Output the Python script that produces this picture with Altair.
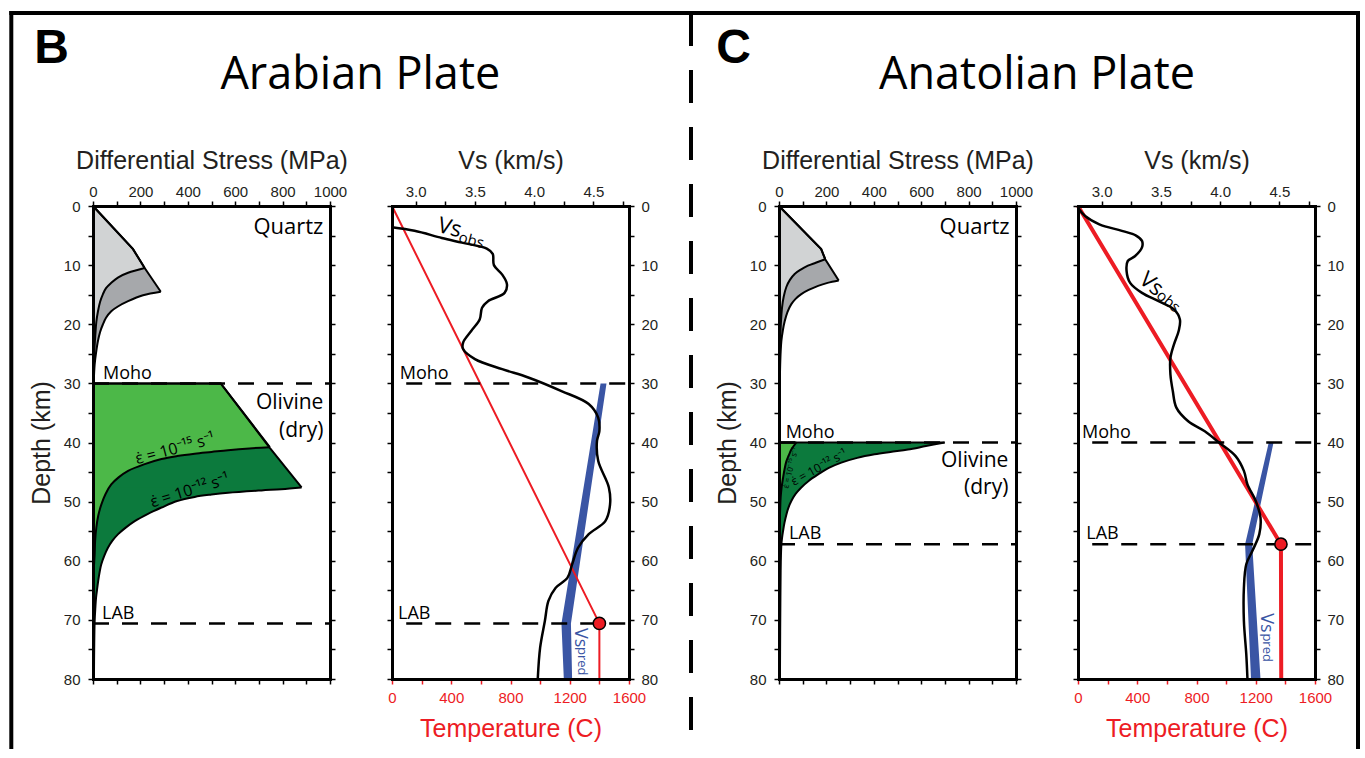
import altair as alt
import pandas as pd

# ------------------------------------------------------------------
# DATA
# ------------------------------------------------------------------
DEPTH_TICKS = list(range(0, 81, 5))
STRESS_TICKS = list(range(0, 1001, 100))
VS_TICKS = [3.0, 3.25, 3.5, 3.75, 4.0, 4.25, 4.5, 4.75]
TEMP_TICKS = list(range(0, 1601, 200))

# ---- Panel B : Arabian Plate, strength envelopes (stress MPa / depth km)
B_q12_lin_depth = [0, 7.3, 10.5, 14.5]
B_q12_lin_stress = [0, 169, 218, 286]
B_q12_cur_depth = [14.5, 15.1, 16.1, 17.0, 17.8, 18.9, 20.0, 21.3, 22.8, 24.8, 26.8, 29.9]
B_q12_cur_stress = [286, 211, 148, 105, 77, 55, 42, 30, 21, 13, 7, 3]
B_q15_lin_depth = [0, 7.3, 10.5]
B_q15_lin_stress = [0, 169, 218]
B_q15_cur_depth = [10.5, 11.3, 12.1, 13.0, 13.9, 14.9, 16.2, 17.8, 19.6, 21.7, 24.2, 26.8, 29.9]
B_q15_cur_stress = [218, 148, 105, 77, 55, 42, 30, 21, 14, 10, 6, 4, 2]
B_o12_lin_depth = [30, 30, 40.9, 47.6]
B_o12_lin_stress = [0, 539, 746, 880]
B_o12_cur_depth = [47.6, 47.9, 48.1, 48.5, 48.8, 49.2, 49.9, 51.0, 52.1, 53.3, 54.4, 55.5,
                   56.6, 57.8, 59.2, 60.6, 62.6, 64.6, 66.2, 67.9, 70.2, 75.0, 80.0]
B_o12_cur_stress = [880, 795, 711, 570, 500, 429, 355, 289, 230, 176, 138, 106,
                    82, 63, 47, 35, 25, 18, 13, 10, 7, 5, 4]
B_o15_lin_depth = [30, 30, 40.8]
B_o15_lin_stress = [0, 539, 746]
B_o15_cur_depth = [40.8, 41.0, 41.3, 41.6, 41.9, 42.3, 42.8, 43.7, 44.8, 45.9, 47.1, 48.7,
                   50.5, 52.4, 54.4, 56.6, 58.9, 61.7, 66.0]
B_o15_cur_stress = [746, 660, 570, 500, 429, 355, 289, 215, 148, 108, 77, 53,
                    35, 22, 14, 9, 7, 3, 1]
B_moho, B_lab = 30, 70.6

# ---- Panel B : velocity / temperature
B_obs_depth = [3.6, 4.2, 5.4, 6.2, 7.2, 8.1, 10.0, 11.6, 13.2, 14.7, 16.1, 17.2, 19.2, 21.1,
               23.1, 24.2, 25.9, 27.6, 29.0, 31.3, 33.5, 35.8, 38.1, 39.7, 43.1, 47.6, 50.5,
               53.3, 55.5, 57.8, 60.6, 62.9, 64.6, 66.8, 70.2, 74.7, 80.0]
B_obs_vs = [2.80, 2.99, 3.22, 3.39, 3.60, 3.65, 3.66, 3.73, 3.77, 3.75, 3.61, 3.56, 3.54, 3.47,
            3.40, 3.40, 3.50, 3.73, 3.95, 4.23, 4.46, 4.54, 4.55, 4.53, 4.54, 4.63, 4.64,
            4.60, 4.46, 4.37, 4.32, 4.28, 4.18, 4.12, 4.09, 4.05, 4.03]
B_pred_depth = [30, 70.6, 80]
B_pred_lo = [4.56, 4.23, 4.25]
B_pred_hi = [4.61, 4.31, 4.32]
B_temp_depth = [0, 70.6, 80]
B_temp = [0, 1400, 1400]

# ---- Panel C : Anatolian Plate, strength envelopes
C_q12_lin_depth = [0, 7.3, 9.0, 12.6]
C_q12_lin_stress = [0, 178, 195, 252]
C_q12_cur_depth = [12.6, 13.0, 13.5, 14.2, 14.9, 15.7, 16.6, 17.9, 19.5, 21.1, 22.8, 24.7,
                   26.8, 30.0, 34.0, 39.8]
C_q12_cur_stress = [252, 205, 165, 125, 94, 70, 52, 36, 24, 16, 10, 7, 5, 3, 2, 1]
C_q15_lin_depth = [0, 7.3, 9.0]
C_q15_lin_stress = [0, 178, 195]
C_q15_cur_depth = [9.0, 9.6, 10.1, 10.8, 11.5, 12.5, 13.7, 15.3, 17.1, 19.8, 22.8, 27.0,
                   31.0, 36.0, 40.0]
C_q15_cur_stress = [195, 155, 122, 90, 66, 46, 31, 20, 13, 8, 5, 3, 2, 1, 0.5]
C_o12_lin_depth = [40, 40]
C_o12_lin_stress = [0, 699]
C_o12_cur_depth = [40.0, 40.6, 41.2, 41.6, 42.0, 42.6, 43.4, 44.3, 45.4, 46.5, 47.6, 48.7,
                   49.9, 51.0, 52.2, 53.6, 55.0, 56.1, 57.3, 59.5, 61.7, 66.0, 72.0, 80.0]
C_o12_cur_stress = [699, 620, 544, 470, 403, 330, 263, 210, 165, 125, 94, 70,
                    52, 40, 31, 23, 17, 13, 10, 8, 7, 6, 5, 4]
C_o15_lin_depth = [40, 40]
C_o15_lin_stress = [0, 73]
C_o15_cur_depth = [40.0, 40.6, 41.2, 42.2, 43.2, 44.6, 46.0, 47.6, 49.3, 51.2, 53.3, 56.6, 60.0]
C_o15_cur_stress = [73, 62, 52, 41, 31, 23, 17, 11, 7, 5, 3, 1, 0.5]
C_moho, C_lab = 40, 57.2

# ---- Panel C : velocity / temperature
C_obs_depth = [0.3, 1.7, 3.1, 4.2, 5.0, 5.9, 7.0, 8.5, 9.3, 11.0, 13.0, 14.7, 16.1, 17.5,
               19.2, 21.1, 23.4, 25.7, 28.5, 31.3, 34.1, 36.4, 38.1, 40.0, 42.3, 44.8, 47.1,
               49.9, 52.7, 55.5, 58.4, 60.6, 64.6, 70.2, 75.8, 80.0]
C_obs_vs = [2.80, 2.86, 2.98, 3.17, 3.29, 3.34, 3.34, 3.28, 3.22, 3.21, 3.24, 3.34, 3.48, 3.61,
            3.66, 3.65, 3.61, 3.58, 3.58, 3.60, 3.63, 3.73, 3.87, 3.99, 4.13, 4.20, 4.23,
            4.30, 4.34, 4.33, 4.27, 4.22, 4.20, 4.20, 4.22, 4.23]
C_pred_depth = [40, 57.2, 80]
C_pred_lo = [4.41, 4.21, 4.26]
C_pred_hi = [4.45, 4.27, 4.34]
C_temp_depth = [0, 57.2, 80]
C_temp = [0, 1370, 1372]

# ------------------------------------------------------------------
# STYLE
# ------------------------------------------------------------------
INK = "#231f20"
RED = "#ed1c24"
BLUE = "#3a55a4"
LGRAY = "#d1d3d4"
DGRAY = "#a6a8ab"
LGREEN = "#4cb848"
DGREEN = "#0c7a3d"
FONT_H = "Liberation Sans"
FONT_M = "Open Sans"
W, H = 237, 473

DEPTH = alt.Scale(domain=[0, 80], reverse=True, nice=False, zero=False)
STRESS = alt.Scale(domain=[0, 1000], nice=False, zero=False)
VS = alt.Scale(domain=[2.8, 4.8], nice=False, zero=False)
TEMP = alt.Scale(domain=[0, 1600], nice=False, zero=False)

EPS15 = "\u03b5\u0307 = 10\u207b\u00b9\u2075 s\u207b\u00b9"
EPS12 = "\u03b5\u0307 = 10\u207b\u00b9\u00b2 s\u207b\u00b9"


def axis(**kw):
    base = dict(grid=False, tickSize=5, tickWidth=1.5, tickColor="black",
                domainColor="black", domainWidth=3, domainCap="square",
                labelFont=FONT_H, labelFontSize=15, labelColor=INK,
                labelFlush=False, labelOverlap=False, labelBound=False, zindex=1,
                titleFont=FONT_H, titleFontSize=25, titleFontWeight="normal",
                titleColor=INK, titleBaseline="alphabetic", titleAlign="center")
    base.update(kw)
    return alt.Axis(**base)


def pts(depth, vals, key="stress", seg="s"):
    return pd.DataFrame({"depth": depth, key: vals, "i": list(range(len(depth))), "seg": seg})


def label(t, x, y, xscale, size, align="center", baseline="alphabetic", angle=0,
          font=FONT_M, color="black", weight="normal"):
    df = pd.DataFrame({"t": [t], "x": [x], "y": [y]})
    mk = dict(font=font, fontSize=size, align=align, baseline=baseline, color=color,
              fontWeight=weight)
    if angle:
        mk["angle"] = angle
    return alt.Chart(df).mark_text(**mk).encode(
        x=alt.X("x:Q", scale=xscale, axis=None),
        y=alt.Y("y:Q", scale=DEPTH, axis=None),
        text="t:N")


def deco_text(t, px, py, size, font, weight="normal", align="left"):
    return alt.Chart(pd.DataFrame({"t": [t]})).mark_text(
        font=font, fontSize=size, fontWeight=weight, align=align,
        baseline="alphabetic", color="black").encode(
        x=alt.value(px), y=alt.value(py), text="t:N")


def deco_rule(x, y, x2=None, y2=None, dash=None, width=4):
    enc = dict(x=alt.value(x), y=alt.value(y))
    if x2 is not None:
        enc["x2"] = alt.value(x2)
    if y2 is not None:
        enc["y2"] = alt.value(y2)
    mk = dict(color="black", strokeWidth=width, strokeCap="square")
    if dash:
        mk["strokeDash"] = dash
        mk["strokeCap"] = "butt"
    return alt.Chart(pd.DataFrame({"k": [0]})).mark_rule(**mk).encode(**enc)


def stress_panel(envs, moho, lab, texts, deco):
    carriers = [
        (axis(orient="top", values=STRESS_TICKS, format="d",
              labelExpr="datum.value % 200 === 0 ? datum.label : ''", labelPadding=2,
              title="Differential Stress (MPa)", titleX=W / 2, titleY=-38),
         axis(orient="left", values=DEPTH_TICKS, format="d",
              labelExpr="datum.value % 10 === 0 ? datum.label : ''", labelPadding=8,
              title="Depth (km)", titleAngle=270, titleX=-44, titleY=H / 2)),
        (axis(orient="bottom", values=STRESS_TICKS, labels=False, title=None),
         axis(orient="right", values=DEPTH_TICKS, labels=False, title=None)),
    ]
    layers = []
    lin_lines, cur_lines = [], []
    for name, (ld, ls, cd, cs, color) in envs:
        lin = pts(ld, ls, seg=name)
        cur = pts(cd, cs, seg=name)
        lin_lines.append(lin)
        cur_lines.append(cur)
        lin_area = lin.iloc[1:] if (len(ld) > 1 and ld[0] == ld[1]) else lin
        if len(lin_area) >= 2:
            # overlap slightly into the curved part so no seam shows between the fills
            lin_area = pd.concat([lin_area, cur.iloc[1:2]])
        for df, interp in ((lin_area, "linear"), (cur, "catmull-rom")):
            if len(df) < 2:
                continue
            ax_x, ax_y = carriers.pop(0) if carriers else (None, None)
            layers.append(alt.Chart(df).mark_area(
                orient="horizontal", color=color, interpolate=interp, opacity=1).encode(
                x=alt.X("stress:Q", scale=STRESS, axis=ax_x),
                x2=alt.X2Datum(0),
                y=alt.Y("depth:Q", scale=DEPTH, axis=ax_y)))
    for dfs, interp in ((lin_lines, "linear"), (cur_lines, "catmull-rom")):
        layers.append(alt.Chart(pd.concat(dfs)).mark_line(
            color="black", strokeWidth=2, interpolate=interp).encode(
            x=alt.X("stress:Q", scale=STRESS, axis=None),
            y=alt.Y("depth:Q", scale=DEPTH, axis=None),
            detail="seg:N", order=alt.Order("i:Q")))
    layers.append(alt.Chart(pd.DataFrame({"depth": [moho, lab]})).mark_rule(
        color="black", strokeWidth=2.5, strokeDash=[16, 13]).encode(
        x=alt.XDatum(0, scale=STRESS, axis=None), x2=alt.X2Datum(1000),
        y=alt.Y("depth:Q", scale=DEPTH, axis=None)))
    for t in texts:
        layers.append(label(xscale=STRESS, **t))
    layers.extend(deco)
    return alt.layer(*layers).resolve_scale(x="independent", y="independent").properties(
        width=W, height=H)


def vs_panel(obs_d, obs_v, pred_d, pred_lo, pred_hi, t_d, t_v, moho, lab, lab_t,
             texts, red_width):
    layers = []
    layers.append(alt.Chart(pd.DataFrame({"depth": pred_d, "lo": pred_lo, "hi": pred_hi}))
                  .mark_area(orient="horizontal", color=BLUE, opacity=1)
                  .encode(x=alt.X("lo:Q", scale=VS, axis=None), x2=alt.X2("hi:Q"),
                          y=alt.Y("depth:Q", scale=DEPTH, axis=None)))
    layers.append(alt.Chart(pts(t_d, t_v, "temp")).mark_line(
        color=RED, strokeWidth=red_width).encode(
        x=alt.X("temp:Q", scale=TEMP,
                axis=axis(orient="bottom", values=TEMP_TICKS, format="d",
                          labelExpr="datum.value % 400 === 0 ? datum.label : ''",
                          labelPadding=6, labelColor=RED, tickColor=RED,
                          title="Temperature (C)", titleColor=RED, titleX=W / 2, titleY=57)),
        y=alt.Y("depth:Q", scale=DEPTH,
                axis=axis(orient="left", values=DEPTH_TICKS, labels=False, title=None)),
        order=alt.Order("i:Q")))
    layers.append(alt.Chart(pts(obs_d, obs_v, "vs")).mark_line(
        color="black", strokeWidth=2.5, interpolate="catmull-rom").encode(
        x=alt.X("vs:Q", scale=VS,
                axis=axis(orient="top", values=VS_TICKS, format=".1f",
                          labelExpr="(datum.value * 2) % 1 === 0 ? datum.label : ''",
                          labelPadding=2, title="Vs (km/s)", titleX=W / 2, titleY=-38)),
        y=alt.Y("depth:Q", scale=DEPTH,
                axis=axis(orient="right", values=DEPTH_TICKS, format="d",
                          labelExpr="datum.value % 10 === 0 ? datum.label : ''",
                          labelPadding=7, title=None)),
        order=alt.Order("i:Q")))
    layers.append(alt.Chart(pd.DataFrame({"depth": [moho, lab]})).mark_rule(
        color="black", strokeWidth=2.5, strokeDash=[16, 13]).encode(
        x=alt.XDatum(2.92, scale=VS, axis=None), x2=alt.X2Datum(4.8),
        y=alt.Y("depth:Q", scale=DEPTH, axis=None)))
    layers.append(alt.Chart(pd.DataFrame({"temp": [lab_t], "depth": [lab]})).mark_point(
        shape="circle", size=150, filled=True, fill=RED, stroke="black",
        strokeWidth=1.5, opacity=1).encode(
        x=alt.X("temp:Q", scale=TEMP, axis=None),
        y=alt.Y("depth:Q", scale=DEPTH, axis=None)))
    for t in texts:
        layers.append(label(xscale=VS, **t))
    return alt.layer(*layers).resolve_scale(x="independent", y="independent").properties(
        width=W, height=H)


# ------------------------------------------------------------------
# PANELS
# ------------------------------------------------------------------
B_envs = [
    ("q12", (B_q12_lin_depth, B_q12_lin_stress, B_q12_cur_depth, B_q12_cur_stress, DGRAY)),
    ("q15", (B_q15_lin_depth, B_q15_lin_stress, B_q15_cur_depth, B_q15_cur_stress, LGRAY)),
    ("o12", (B_o12_lin_depth, B_o12_lin_stress, B_o12_cur_depth, B_o12_cur_stress, DGREEN)),
    ("o15", (B_o15_lin_depth, B_o15_lin_stress, B_o15_cur_depth, B_o15_cur_stress, LGREEN)),
]
B_stress_texts = [
    dict(t="Quartz", x=972, y=4.8, size=22, align="right"),
    dict(t="Olivine", x=972, y=34.3, size=21, align="right"),
    dict(t="(dry)", x=972, y=39.1, size=21, align="right"),
    dict(t="Moho", x=42, y=29.3, size=18, align="left"),
    dict(t="LAB", x=38, y=69.9, size=18, align="left"),
    dict(t=EPS15, x=352, y=41.9, size=16, angle=345),
    dict(t=EPS12, x=415, y=48.95, size=16, angle=343),
]
B_deco = [
    deco_rule(-81.7, -193, y2=541),
    deco_rule(-81.7, -193, x2=1265),
    deco_rule(1265, -193, y2=541),
    deco_text("B", -58.7, -143, 48, FONT_H, weight="bold"),
    deco_text("Arabian Plate", 267.3, -117, 45, FONT_M, align="center"),
]
B_stress = stress_panel(B_envs, B_moho, B_lab, B_stress_texts, B_deco)

B_vs_texts = [
    dict(t="Moho", x=2.865, y=29.3, size=18, align="left"),
    dict(t="LAB", x=2.851, y=69.9, size=18, align="left"),
    dict(t="Vs", x=3.288, y=3.67, size=22, baseline="middle", angle=15),
    dict(t="obs", x=3.47, y=5.8, size=15, baseline="middle", angle=15),
    dict(t="Vs", x=4.39, y=73.0, size=18, baseline="middle", angle=90, color=BLUE),
    dict(t="pred", x=4.404, y=77.0, size=13, baseline="middle", angle=90, color=BLUE),
]
B_vs = vs_panel(B_obs_depth, B_obs_vs, B_pred_depth, B_pred_lo, B_pred_hi,
                B_temp_depth, B_temp, B_moho, B_lab, 1400, B_vs_texts, 2)

C_envs = [
    ("q12", (C_q12_lin_depth, C_q12_lin_stress, C_q12_cur_depth, C_q12_cur_stress, DGRAY)),
    ("q15", (C_q15_lin_depth, C_q15_lin_stress, C_q15_cur_depth, C_q15_cur_stress, LGRAY)),
    ("o12", (C_o12_lin_depth, C_o12_lin_stress, C_o12_cur_depth, C_o12_cur_stress, DGREEN)),
    ("o15", (C_o15_lin_depth, C_o15_lin_stress, C_o15_cur_depth, C_o15_cur_stress, LGREEN)),
]
C_stress_texts = [
    dict(t="Quartz", x=973, y=4.7, size=22, align="right"),
    dict(t="Moho", x=28, y=39.2, size=18, align="left"),
    dict(t="Olivine", x=968, y=44.2, size=21, align="right"),
    dict(t="(dry)", x=968, y=48.7, size=21, align="right"),
    dict(t="LAB", x=42, y=56.3, size=18, align="left"),
    dict(t=EPS12, x=178, y=44.8, size=12, angle=331),
    dict(t=EPS15, x=52, y=44.3, size=8, baseline="middle", angle=284),
]
C_deco = [
    deco_text("C", -62.7, -143, 48, FONT_H, weight="bold"),
    deco_text("Anatolian Plate", 258, -117, 45, FONT_M, align="center"),
]
C_stress = stress_panel(C_envs, C_moho, C_lab, C_stress_texts, C_deco)

C_vs_texts = [
    dict(t="Moho", x=2.834, y=39.2, size=18, align="left"),
    dict(t="LAB", x=2.87, y=56.4, size=18, align="left"),
    dict(t="Vs", x=3.421, y=13.2, size=22, baseline="middle", angle=40),
    dict(t="obs", x=3.563, y=16.1, size=15, baseline="middle", angle=40),
    dict(t="Vs", x=4.387, y=70.5, size=18, baseline="middle", angle=90, color=BLUE),
    dict(t="pred", x=4.396, y=74.7, size=13, baseline="middle", angle=90, color=BLUE),
]
C_vs = vs_panel(C_obs_depth, C_obs_vs, C_pred_depth, C_pred_lo, C_pred_hi,
                C_temp_depth, C_temp, C_moho, C_lab, 1370, C_vs_texts, 4)

spacer = alt.layer(deco_rule(0, -193, y2=541, dash=[33, 24], width=4)).properties(
    width=26, height=H)

chart = alt.hconcat(B_stress, B_vs, spacer, C_stress, C_vs, spacing=62, bounds="flush").properties(
    padding={"left": 8, "top": 10, "right": 0, "bottom": 0},
    background="white",
).configure_view(stroke=None)

chart.save("out.html", embed_options={"renderer": "svg", "actions": False})
